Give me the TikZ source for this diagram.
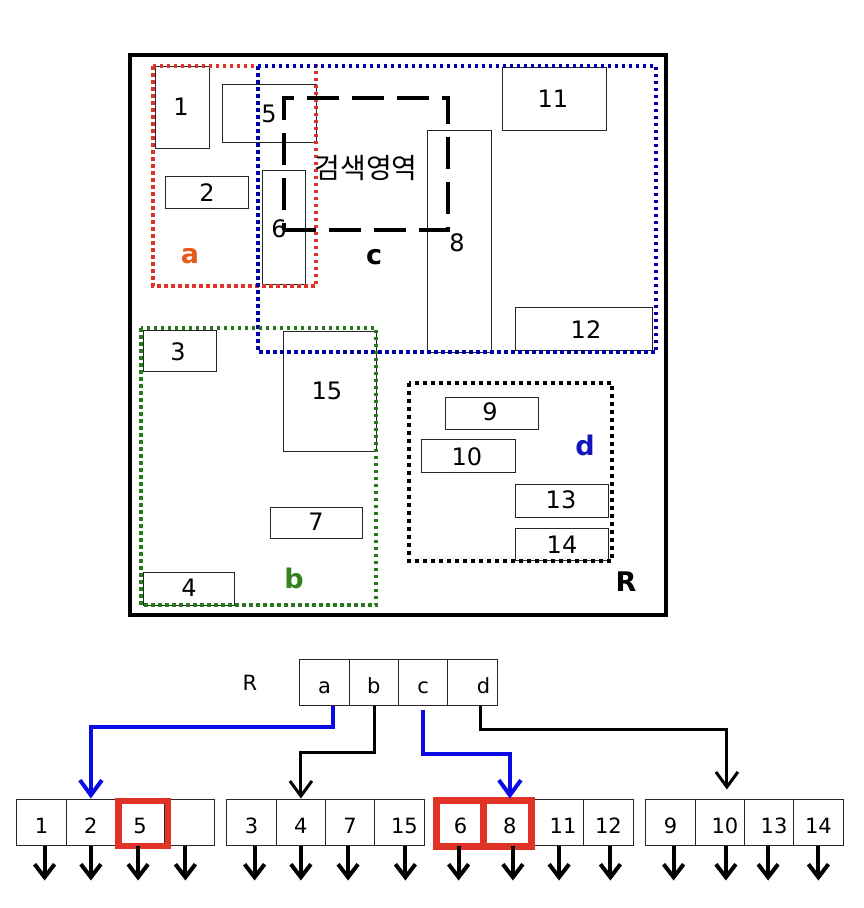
\documentclass[tikz,border=0pt]{standalone}
\usepackage{fontspec}
\setmainfont{DejaVu Sans}
\newfontfamily\kor{Noto Sans CJK KR}
\usetikzlibrary{arrows.meta}
\definecolor{redA}{RGB}{225,50,40}
\definecolor{blueC}{RGB}{0,0,170}
\definecolor{greenB}{RGB}{40,120,30}
\definecolor{orangeA}{RGB}{230,90,30}
\definecolor{greenL}{RGB}{50,130,30}
\definecolor{blueL}{RGB}{20,20,190}
\definecolor{arrBlue}{RGB}{10,10,230}
\definecolor{hiRed}{RGB}{225,50,40}
\tikzset{
  rbox/.style={draw=black!85, line width=1pt},
  num/.style={font=\fontsize{24}{28}\selectfont, inner sep=0pt},
  biglbl/.style={font=\bfseries\fontsize{27}{32}\selectfont, inner sep=0pt},
  dotbox/.style={line width=3.5pt, dash pattern=on 3.5pt off 3.5pt},
  searchbox/.style={line width=4pt, dash pattern=on 32pt off 13pt},
  cell/.style={draw=black!85, line width=1pt, minimum width=49.25pt, minimum height=46pt, inner sep=0pt, text height=23pt, text depth=0pt, font=\fontsize{21}{25}\selectfont},
  rcell/.style={cell, minimum width=49.3pt},
  blueArrow/.style={draw=arrBlue, line width=4pt, -{Straight Barb[length=15pt,width=22pt]}},
  blackArrow/.style={draw=black, line width=3pt, -{Straight Barb[length=15pt,width=22pt]}},
  childArrow/.style={draw=black, line width=4pt, -{Straight Barb[length=13pt,width=20pt]}},
  hibox/.style={draw=hiRed, line width=6.5pt}
}
\begin{document}
\begin{tikzpicture}[x=1pt,y=-1pt]
\useasboundingbox (0,0) rectangle (864,908);
\fill[white] (0,0) rectangle (864,908);

% outer frame
\draw[line width=4pt] (130,55) rectangle (666,615);

% data rectangles
\draw[rbox] (155,66) rectangle (209,148);  \node[num] (n1) at (181,107) {1};
\draw[rbox] (222,84) rectangle (316,142);  \node[num] (n5) at (269,114) {5};
\draw[rbox] (165,176) rectangle (248,208); \node[num] (n2) at (207,193) {2};
\draw[rbox] (262,170) rectangle (305,284); \node[num] (n6) at (279,229) {6};
\draw[rbox] (427,130) rectangle (491,352); \node[num] (n8) at (457,243) {8};
\draw[rbox] (502,67) rectangle (606,130);  \node[num] (n11) at (553,99) {11};
\draw[rbox] (515,307) rectangle (652,350); \node[num] (n12) at (586,330) {12};
\draw[rbox] (143,330) rectangle (216,371); \node[num] (n3) at (178,352) {3};
\draw[rbox] (283,331) rectangle (376,451); \node[num] (n15) at (327,391) {15};
\draw[rbox] (270,507) rectangle (362,538); \node[num] (n7) at (316,522) {7};
\draw[rbox] (143,572) rectangle (234,605); \node[num] (n4) at (189,588) {4};
\draw[rbox] (445,397) rectangle (538,429); \node[num] (n9) at (490,412) {9};
\draw[rbox] (421,439) rectangle (515,472); \node[num] (n10) at (467,457) {10};
\draw[rbox] (515,484) rectangle (608,517); \node[num] (n13) at (561,500) {13};
\draw[rbox] (515,528) rectangle (608,560); \node[num] (n14) at (562,545) {14};

% bounding (dotted) boxes
\draw[dotbox, draw=redA] (153,66) rectangle (316,286);
\draw[dotbox, draw=blueC] (258,66) rectangle (656,352);
\draw[dotbox, draw=greenB] (141,328) rectangle (376,605);
\draw[dotbox, draw=black, line width=4pt, dash pattern=on 4pt off 4pt] (409,383) rectangle (612,561);

% search region
\draw[searchbox] (284,230) -- (448,230) -- (448,98) -- (284,98) -- cycle;
\node[inner sep=0pt, font=\kor\fontsize{28}{32}\selectfont] (srch) at (366,168) {검색영역};

% region labels
\node[biglbl, text=orangeA] (la) at (190,256) {a};
\node[biglbl] (lc) at (374,257) {c};
\node[biglbl, text=greenL] (lb) at (294,578) {b};
\node[biglbl, text=blueL] (ld) at (585,445) {d};
\node[biglbl] (lR) at (626,582) {R};

% ---------- tree ----------
\node[font=\fontsize{21}{25}\selectfont, inner sep=0pt] (rootlbl) at (250,683) {R};
\node[rcell] (ra) at (324.6,682) {a};
\node[rcell] (rb) at (373.9,682) {b};
\node[rcell] (rc) at (423.2,682) {c};
\node[rcell] (rd) at (472.5,682) {\hspace*{22pt}d};

% leaf 1
\node[cell] (l1a) at (41.6,822) {1};
\node[cell] (l1b) at (90.9,822) {2};
\node[cell] (l1c) at (140.1,822) {5};
\node[cell] (l1d) at (189.4,822) {};
% leaf 2
\node[cell] (l2a) at (251.6,822) {3};
\node[cell] (l2b) at (300.9,822) {4};
\node[cell] (l2c) at (350.1,822) {7};
\node[cell] (l2d) at (399.4,822) {\hspace*{10pt}15};
% leaf 3
\node[cell] (l3a) at (460.6,822) {6};
\node[cell] (l3b) at (509.9,822) {8};
\node[cell] (l3c) at (559.1,822) {\hspace*{8pt}11};
\node[cell] (l3d) at (608.4,822) {12};
% leaf 4
\node[cell] (l4a) at (670.6,822) {9};
\node[cell] (l4b) at (719.9,822) {\hspace*{10pt}10};
\node[cell] (l4c) at (769.1,822) {\hspace*{10pt}13};
\node[cell] (l4d) at (818.4,822) {14};

% highlighted entries
\draw[hibox] (118.5,801) rectangle (168,846);
\draw[hibox, line width=7pt] (436.5,800.5) rectangle (483.5,846.5);
\draw[hibox, line width=7pt] (483.5,800.5) rectangle (531.5,846.5);

% root -> leaves
\draw[blueArrow] ([xshift=8pt]ra.south) -- ++(0,21) -| (l1b.north);
\draw[blackArrow] ([xshift=1pt]rb.south) -- ++(0,47) -| (l2b.north);
\draw[blueArrow] ([yshift=-4pt]rc.south) -- ++(0,44) -| (l3b.north);
\draw[blackArrow] ([xshift=8pt]rd.south) -- ++(0,24) -| ([xshift=7pt,yshift=9pt]l4b.north);

% child pointers
\foreach \c/\s in {l1a/3,l1b/0,l1c/-2,l1d/-4,l2a/3,l2b/0,l2c/-2,l2d/6,l3a/-2,l3b/3,l3c/0,l3d/2,l4a/3,l4b/6,l4c/-1,l4d/0}
  \draw[childArrow] ([xshift=\s pt]\c.south) -- ++(0,35);
\end{tikzpicture}
\end{document}
